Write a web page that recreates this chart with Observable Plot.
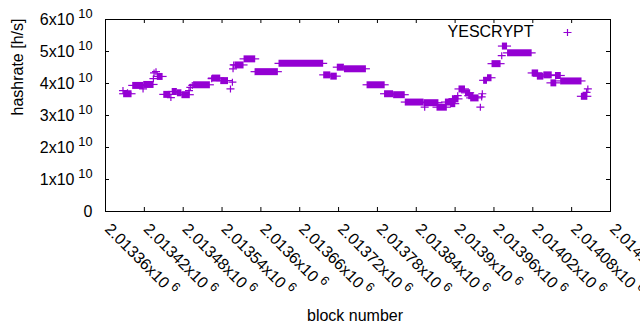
<!DOCTYPE html>
<html><head><meta charset="utf-8">
<script src="https://cdn.jsdelivr.net/npm/d3@7"></script>
<script src="https://cdn.jsdelivr.net/npm/@observablehq/plot@0.6"></script>
<style>body{margin:0;background:#fff} svg{display:block}</style>
</head><body><div id="chart"></div>
<script>
const seriesName = "YESCRYPT";
const xLabel = "block number";
const yLabel = "hashrate [h/s]";
const color = "#9400d3";

const xTicks = [2013360, 2013420, 2013480, 2013540, 2013600, 2013660, 2013720, 2013780, 2013840, 2013900, 2013960, 2014020, 2014080, 2014140];
const xTickLabels = ["2.01336x10^6", "2.01342x10^6", "2.01348x10^6", "2.01354x10^6", "2.0136x10^6", "2.01366x10^6", "2.01372x10^6", "2.01378x10^6", "2.01384x10^6", "2.0139x10^6", "2.01396x10^6", "2.01402x10^6", "2.01408x10^6", "2.01414x10^6"];
const yTicks = [0, 1e10, 2e10, 3e10, 4e10, 5e10, 6e10];
const yTickLabels = ["0", "1x10^10", "2x10^10", "3x10^10", "4x10^10", "5x10^10", "6x10^10"];

// constant-hashrate runs: first block, last block, hashrate (h/s)
const runStart = [2013388, 2013402, 2013419, 2013440, 2013450, 2013463, 2013471, 2013478, 2013496, 2013525, 2013538, 2013560, 2013574, 2013591, 2013628, 2013697, 2013708, 2013718, 2013729, 2013764, 2013791, 2013805, 2013823, 2013852, 2013872, 2013885, 2013893, 2013897, 2013906, 2013916, 2013921, 2013924, 2013944, 2013950, 2013957, 2013973, 2013981, 2014019, 2014027, 2014037, 2014048, 2014055, 2014063, 2014095];
const runEnd   = [2013401, 2013419, 2013435, 2013449, 2013461, 2013471, 2013478, 2013491, 2013522, 2013538, 2013550, 2013574, 2013592, 2013627, 2013697, 2013708, 2013718, 2013729, 2013763, 2013792, 2013805, 2013823, 2013852, 2013875, 2013888, 2013896, 2013901, 2013906, 2013916, 2013924, 2013929, 2013937, 2013950, 2013957, 2013971, 2013981, 2014019, 2014029, 2014037, 2014050, 2014057, 2014064, 2014096, 2014105];
const runValue = [3.68e10, 3.94e10, 3.97e10, 4.22e10, 3.66e10, 3.75e10, 3.71e10, 3.65e10, 3.96e10, 4.17e10, 4.09e10, 4.58e10, 4.77e10, 4.37e10, 4.63e10, 4.27e10, 4.23e10, 4.51e10, 4.46e10, 3.96e10, 3.68e10, 3.65e10, 3.42e10, 3.40e10, 3.26e10, 3.42e10, 3.37e10, 3.52e10, 3.83e10, 3.71e10, 3.62e10, 3.55e10, 4.10e10, 4.18e10, 4.62e10, 5.17e10, 4.96e10, 4.33e10, 4.23e10, 4.27e10, 4.02e10, 4.25e10, 4.08e10, 3.60e10];

// isolated blocks
const pointBlock = [2013387, 2013394, 2013418, 2013434, 2013435, 2013438, 2013461, 2013489, 2013491, 2013494, 2013524, 2013553, 2013556, 2013557, 2013558, 2013853, 2013896, 2013904, 2013939, 2013941, 2013942, 2013972, 2014103, 2014105];
const pointValue = [3.78e10, 3.71e10, 3.83e10, 4.15e10, 4.33e10, 4.37e10, 3.56e10, 3.78e10, 3.88e10, 3.94e10, 4.15e10, 3.83e10, 4.04e10, 4.46e10, 4.58e10, 3.26e10, 3.52e10, 3.62e10, 3.26e10, 3.58e10, 3.68e10, 4.87e10, 3.72e10, 3.83e10];

const runs = runStart.map((s, i) => ({start: s, end: runEnd[i], value: runValue[i]}));
const points = pointBlock.map((b, i) => ({block: b, value: pointValue[i]}));

const plusSymbol = {
  draw(ctx, size) {
    const r = Math.sqrt(size / Math.PI);
    ctx.moveTo(-r, 0); ctx.lineTo(r, 0);
    ctx.moveTo(0, -r * 0.88); ctx.lineTo(0, r * 0.88);
  }
};

const chart = Plot.plot({
  width: 640,
  height: 330,
  marginLeft: 105,
  marginRight: 30,
  marginTop: 19,
  marginBottom: 119,
  style: {fontFamily: "'Liberation Sans', Arial, sans-serif", fontSize: "16px", background: "white", color: "black"},
  x: {domain: [xTicks[0], xTicks[xTicks.length - 1]]},
  y: {domain: [yTicks[0], yTicks[yTicks.length - 1]]},
  marks: [
    Plot.ruleY(runs, {x1: "start", x2: "end", y: "value", stroke: color, strokeWidth: 7}),
    Plot.ruleY(runs, {x1: "start", x2: "end", y: "value", stroke: color, strokeWidth: 1.2, insetLeft: -4, insetRight: -4}),
    Plot.dot(points, {x: "block", y: "value", r: 4, symbol: plusSymbol, stroke: color, fill: "none", strokeWidth: 1.2}),
    Plot.ruleX(xTicks, {x: d => d, insetBottom: 188, stroke: "black"}),
    Plot.ruleX(xTicks, {x: d => d, insetTop: 188, stroke: "black"}),
    Plot.ruleY(yTicks, {y: d => d, insetRight: 501, stroke: "black"}),
    Plot.ruleY(yTicks, {y: d => d, insetLeft: 501, stroke: "black"}),
    Plot.frame({stroke: "black", strokeWidth: 1}),
    Plot.axisY({ticks: yTicks, tickSize: 0, tickPadding: 13, label: null,
      tickFormat: d => yTickLabels[yTicks.indexOf(d)]}),
    Plot.axisX({ticks: xTicks, tickSize: 0, tickPadding: 15, dx: 2, tickRotate: 45, label: null,
      tickFormat: d => xTickLabels[xTicks.indexOf(d)]}),
    Plot.text([yLabel], {frameAnchor: "left", dx: -88, rotate: -90, lineAnchor: "middle", text: d => d}),
    Plot.text([xLabel], {frameAnchor: "bottom", dy: 104, dx: -3, lineAnchor: "middle", text: d => d}),
    Plot.text([seriesName], {frameAnchor: "top-right", dx: -77, dy: 12, textAnchor: "end", lineAnchor: "middle", text: d => d}),
    Plot.dot([seriesName], {frameAnchor: "top-right", dx: -43, dy: 13, r: 4, symbol: plusSymbol, stroke: color, fill: "none", strokeWidth: 1.2})
  ]
});

document.getElementById("chart").appendChild(chart);

// render exponents as superscripts
d3.select(chart).selectAll('g[aria-label$="tick label"] text').each(function() {
  const t = this.textContent;
  if (t.includes("^")) {
    const [base, exp] = t.split("^");
    const el = d3.select(this);
    el.text(base);
    el.append("tspan").attr("dx", "0.3em").attr("dy", "-0.5em").attr("font-size", "0.8em").text(exp);
  }
});
</script>
</body></html>
